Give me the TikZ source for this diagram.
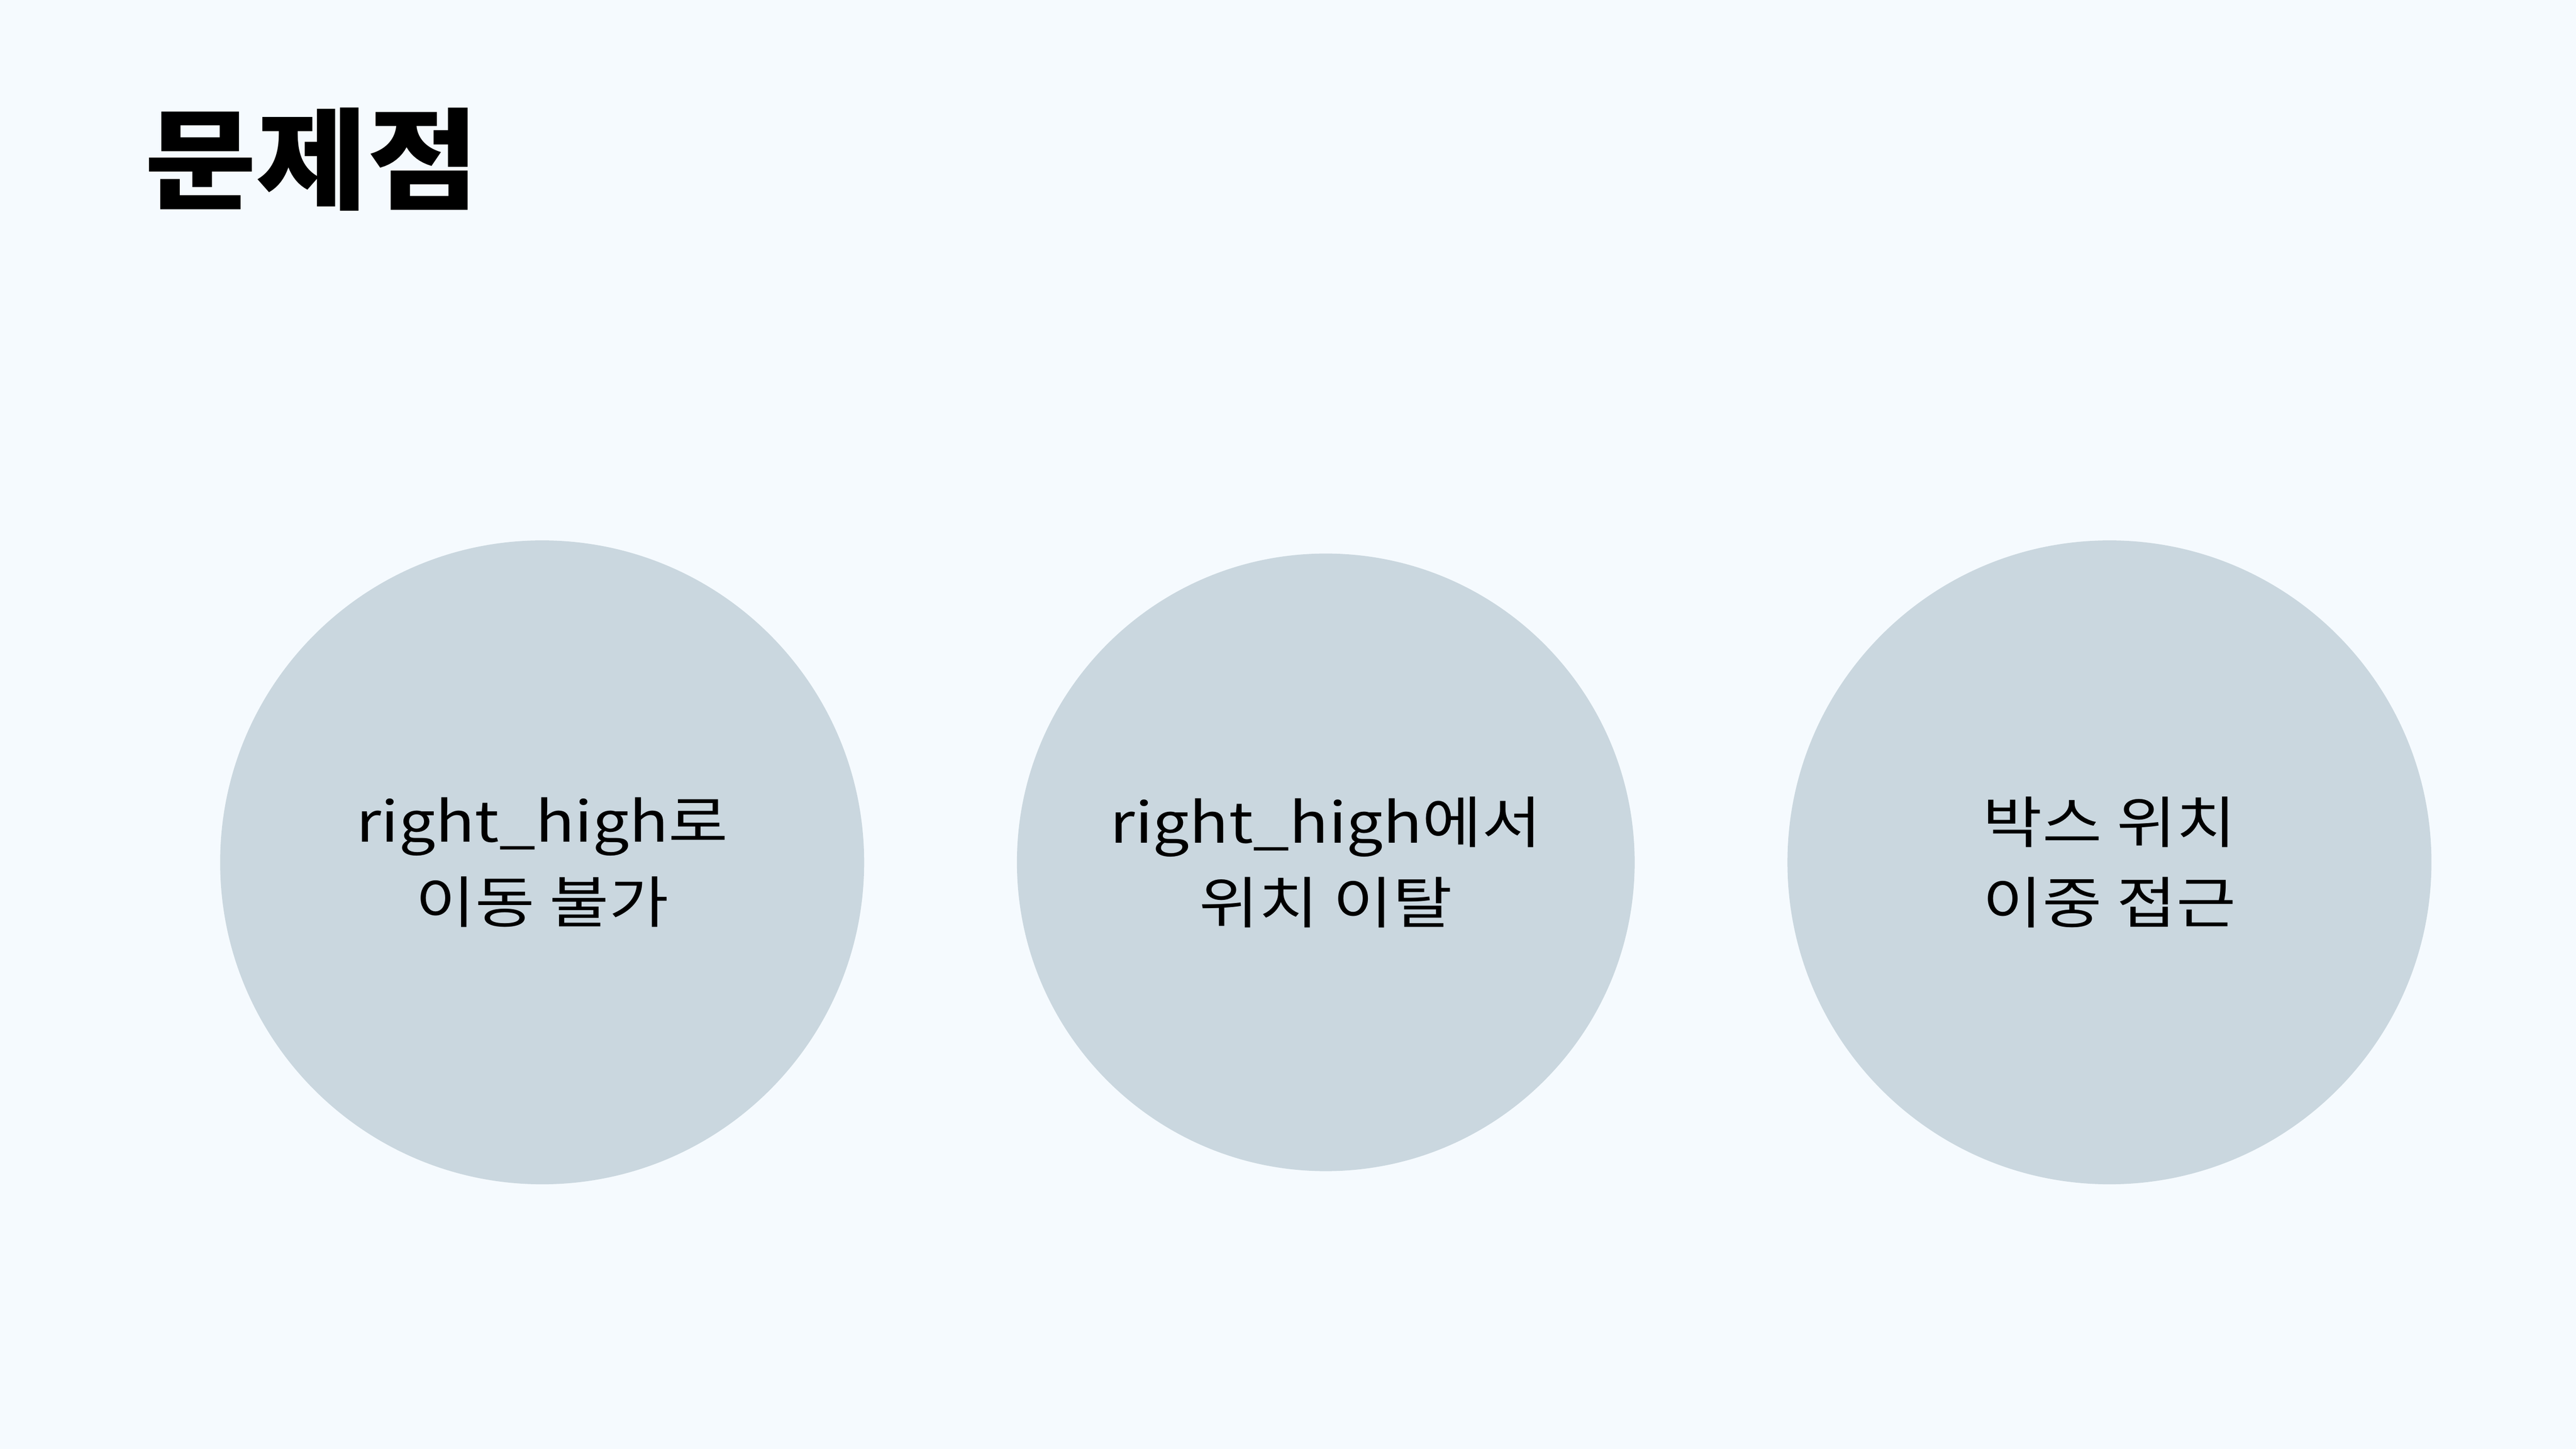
\documentclass[tikz,border=0pt]{standalone}
\usepackage{fontspec}
\setmainfont{Noto Sans CJK KR}
\definecolor{bgc}{HTML}{F5FAFE}
\definecolor{circc}{HTML}{CAD7DF}
\begin{document}
\begin{tikzpicture}[x=1pt,y=-1pt,
  problem/.style={circle,fill=circc,draw=none,inner sep=0pt},
  lbl/.style={align=center,font=\fontsize{34}{49}\selectfont,text=black,xscale=1.16,transform shape}]
\fill[bgc] (0,0) rectangle (1568,882);
\useasboundingbox (0,0) rectangle (1568,882);
\node[anchor=base west,inner sep=0pt,font=\fontsize{67}{80}\selectfont\bfseries,xscale=1.1,transform shape] (title) at (88,122) {문제점};
\node[problem,minimum size=392pt] (c1) at (330,525) {};
\node[problem,minimum size=376pt] (c2) at (807,525) {};
\node[problem,minimum size=392pt] (c3) at (1284,525) {};
\node[lbl] (t1) at (c1) {right\_high로\\이동 불가};
\node[lbl] (t2) at (c2) {right\_high에서\\위치 이탈};
\node[lbl] (t3) at (c3) {박스 위치\\이중 접근};
\end{tikzpicture}
\end{document}
